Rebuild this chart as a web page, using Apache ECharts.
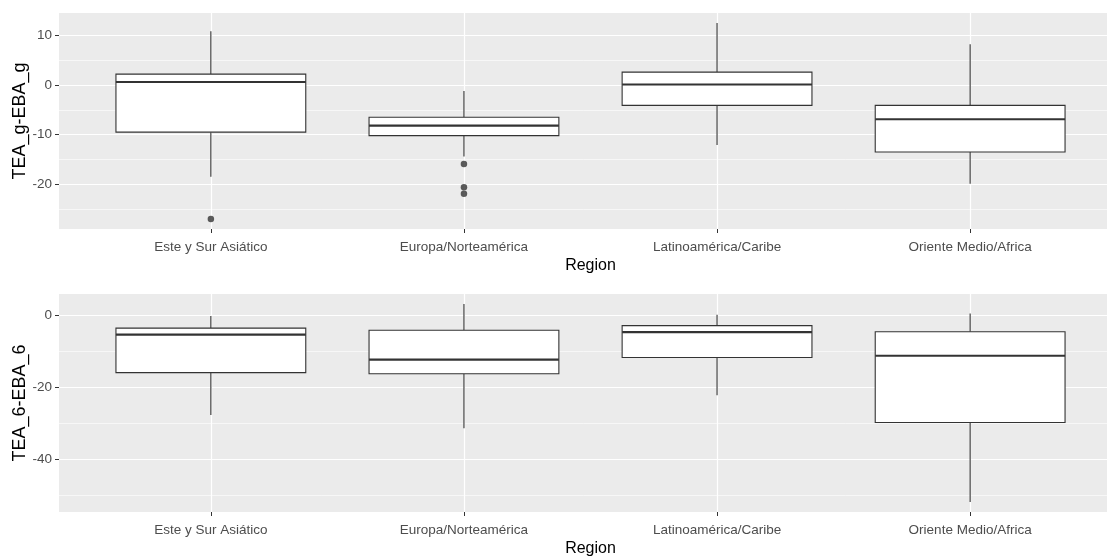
<!DOCTYPE html>
<html>
<head>
<meta charset="utf-8">
<script src="https://cdn.jsdelivr.net/npm/echarts@6/dist/echarts.min.js"></script>
<style>
  html, body { margin: 0; padding: 0; background: #fff; }
  #main { width: 1107px; height: 558px; }
</style>
</head>
<body>
<div id="main"></div>
<script>
// categorias (eje x)
const regions = ["Este y Sur Asiático", "Europa/Norteamérica", "Latinoamérica/Caribe", "Oriente Medio/Africa"];
const regionPos = [1, 2, 3, 4];

// panel de arriba: TEA_g-EBA_g, cada caja = [min, q1, mediana, q3, max]
const teaGBoxes = [
  [-18.5, -9.5, 0.6, 2.2, 10.8],
  [-14.4, -10.2, -8.2, -6.5, -1.2],
  [-12.1, -4.1, 0.1, 2.6, 12.5],
  [-19.9, -13.5, -6.9, -4.1, 8.2]
];
const teaGOutliers = [[1, -27], [2, -15.9], [2, -20.6], [2, -21.9]];
const teaGRange = [-29, 14.5];
const teaGTicks = [-20, -10, 0, 10];
const teaGMinor = [-25, -15, -5, 5];

// panel de abajo: TEA_6-EBA_6
const tea6Boxes = [
  [-27.8, -16.0, -5.4, -3.6, -0.2],
  [-31.5, -16.3, -12.4, -4.2, 3.1],
  [-22.3, -11.8, -4.7, -2.9, 0.1],
  [-52.0, -29.9, -11.3, -4.6, 0.45]
];
const tea6Outliers = [];
const tea6Range = [-54.8, 5.9];
const tea6Ticks = [-40, -20, 0];
const tea6Minor = [-50, -30, -10];

const BOX_WIDTH = 0.75;
const FONT = "Liberation Sans, Arial, sans-serif";

let renderBox = (params, api) => {
  let x = api.value(0);
  let lo = api.coord([x, api.value(1)]);
  let q1 = api.coord([x, api.value(2)]);
  let md = api.coord([x, api.value(3)]);
  let q3 = api.coord([x, api.value(4)]);
  let hi = api.coord([x, api.value(5)]);
  let half = api.size([BOX_WIDTH, 0])[0] / 2;
  let line = { stroke: "#333333", lineWidth: 1.1 };
  return {
    type: "group",
    children: [
      { type: "line", shape: { x1: hi[0], y1: hi[1], x2: q3[0], y2: q3[1] }, style: line },
      { type: "line", shape: { x1: q1[0], y1: q1[1], x2: lo[0], y2: lo[1] }, style: line },
      {
        type: "rect",
        shape: { x: q3[0] - half, y: q3[1], width: half * 2, height: q1[1] - q3[1] },
        style: { fill: "#ffffff", stroke: "#333333", lineWidth: 1.1 }
      },
      {
        type: "line",
        shape: { x1: md[0] - half, y1: md[1], x2: md[0] + half, y2: md[1] },
        style: { stroke: "#333333", lineWidth: 2.2 }
      }
    ]
  };
};

let xAxisFor = (gridIndex) => ({
  type: "value",
  gridIndex: gridIndex,
  position: "bottom",
  min: 0.4,
  max: 4.6,
  name: "Region",
  nameLocation: "middle",
  nameGap: 29,
  nameMoveOverlap: false,
  nameTextStyle: { color: "#000", fontSize: 16, fontFamily: FONT },
  axisLine: { show: false, onZero: false },
  axisTick: { show: true, length: 4, customValues: regionPos, lineStyle: { color: "#333333", width: 1 } },
  axisLabel: {
    customValues: regionPos,
    margin: 11,
    color: "#4D4D4D",
    fontSize: 13.5,
    fontFamily: FONT,
    formatter: (v) => regions[Math.round(v) - 1]
  },
  splitLine: { show: true, lineStyle: { color: "#ffffff", width: 1.2 } }
});

let yMajor = (gridIndex, range, ticks, title) => ({
  type: "value",
  gridIndex: gridIndex,
  position: "left",
  min: range[0],
  max: range[1],
  name: title,
  nameLocation: "middle",
  nameGap: 30,
  nameMoveOverlap: false,
  nameTextStyle: { color: "#000", fontSize: 18, fontFamily: FONT },
  axisLine: { show: false, onZero: false },
  axisTick: { show: true, length: 4, customValues: ticks, lineStyle: { color: "#333333", width: 1 } },
  axisLabel: { customValues: ticks, margin: 7, color: "#4D4D4D", fontSize: 13.5, fontFamily: FONT },
  splitLine: { show: true, lineStyle: { color: "#ffffff", width: 1.2 } }
});

let yMinor = (gridIndex, range, ticks) => ({
  type: "value",
  gridIndex: gridIndex,
  position: "left",
  min: range[0],
  max: range[1],
  axisLine: { show: false, onZero: false },
  axisTick: { show: false, customValues: ticks },
  axisLabel: { show: false, customValues: ticks },
  splitLine: { show: true, lineStyle: { color: "#ffffff", width: 0.6 } }
});

let boxSeries = (axisIdx, boxes) => ({
  type: "custom",
  xAxisIndex: axisIdx.x,
  yAxisIndex: axisIdx.y,
  renderItem: renderBox,
  encode: { x: 0, y: [1, 2, 3, 4, 5] },
  data: boxes.map((b, i) => [regionPos[i]].concat(b)),
  z: 3
});

let outlierSeries = (axisIdx, pts) => ({
  type: "scatter",
  xAxisIndex: axisIdx.x,
  yAxisIndex: axisIdx.y,
  symbol: "circle",
  symbolSize: 6.5,
  itemStyle: { color: "#333333" },
  data: pts,
  z: 4
});

let myChart = echarts.init(document.getElementById("main"), null, { renderer: "canvas" });
let option = {
  animation: false,
  backgroundColor: "#ffffff",
  textStyle: { fontFamily: FONT },
  grid: [
    { left: 59, right: -15, top: 13, height: 216, show: true, backgroundColor: "#EBEBEB", borderWidth: 0, outerBoundsMode: "none" },
    { left: 59, right: -15, top: 294, height: 218, show: true, backgroundColor: "#EBEBEB", borderWidth: 0, outerBoundsMode: "none" }
  ],
  xAxis: [xAxisFor(0), xAxisFor(1)],
  yAxis: [
    yMinor(0, teaGRange, teaGMinor),
    yMajor(0, teaGRange, teaGTicks, "TEA_g-EBA_g"),
    yMinor(1, tea6Range, tea6Minor),
    yMajor(1, tea6Range, tea6Ticks, "TEA_6-EBA_6")
  ],
  series: [
    boxSeries({ x: 0, y: 1 }, teaGBoxes),
    outlierSeries({ x: 0, y: 1 }, teaGOutliers),
    boxSeries({ x: 1, y: 3 }, tea6Boxes),
    outlierSeries({ x: 1, y: 3 }, tea6Outliers)
  ]
};
myChart.setOption(option);
</script>
</body>
</html>
